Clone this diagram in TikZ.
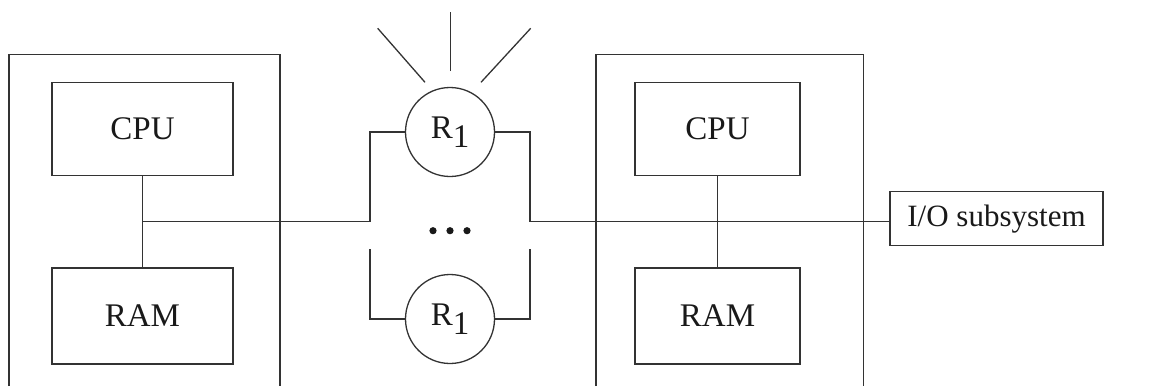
\documentclass[tikz,border=0pt]{standalone}
\usepackage{fontspec}
\setmainfont{Liberation Serif}
\usetikzlibrary{calc}
\tikzset{
  ln/.style={draw=black!80, line width=1.3pt},
  unit/.style={ln, rectangle, inner sep=0pt, font=\fontsize{33}{38}\selectfont, text=black!90},
  rnode/.style={ln, circle, inner sep=0pt, minimum size=89pt, font=\fontsize{33}{38}\selectfont, text=black!90},
  dot/.style={fill=black!90, draw=none}
}
\newcommand{\Rone}{R\raisebox{-9.4pt}{1}}
\begin{document}
\begin{tikzpicture}[x=1pt,y=-1pt]
\useasboundingbox (0,0) rectangle (1153,386);
% outer enclosures (open at bottom)
\draw[ln] (9,386) -- (9,54.7) -- (280,54.7) -- (280,386);
\draw[ln] (596,386) -- (596,54.7) -- (863.3,54.7) -- (863.3,386);
% nodes
\node[unit, minimum width=181pt, minimum height=93pt] (cpuL) at (142.5,129.2) {CPU};
\node[unit, minimum width=181pt, minimum height=96pt] (ramL) at (142.5,316) {RAM};
\node[unit, minimum width=165pt, minimum height=93pt] (cpuR) at (717.5,129.2) {CPU};
\node[unit, minimum width=165pt, minimum height=96pt] (ramR) at (717.5,316) {RAM};
\node[unit, minimum width=213pt, minimum height=54pt, font=\fontsize{31}{36}\selectfont] (io) at (996.5,218.7) {I/O subsystem};
\node[rnode] (r1) at (450,132) {\Rone};
\node[rnode] (r2) at (450,319) {\Rone};
% coordinates
\coordinate (jL) at (143,221.5);
\coordinate (bl) at (370,221.5);
\coordinate (br) at (530,221.5);
\coordinate (l2) at (370,249);
\coordinate (rr2) at (530,249);
% connectors
\draw[ln] (cpuL.south) -- (ramL.north);
\draw[ln] (cpuR.south) -- (ramR.north);
\draw[ln] (jL) -- (bl) |- (r1.west);
\draw[ln] (r1.east) -| (br) -- (br -| io.west);
\draw[ln] (l2) |- (r2.west);
\draw[ln] (r2.east) -| (rr2);
% rays
\draw[ln] ($(r1.center)+(-25,-49.7)$) -- ($(r1.center)+(-72.3,-103.7)$);
\draw[ln] ($(r1.center)+(0.7,-61)$) -- ($(r1.center)+(0.7,-120.3)$);
\draw[ln] ($(r1.center)+(31,-49.7)$) -- ($(r1.center)+(80.7,-103.7)$);
% dots
\fill[dot] (433,230.7) circle (3.6);
\fill[dot] (450,230.7) circle (3.6);
\fill[dot] (467,230.7) circle (3.6);
\end{tikzpicture}
\end{document}
